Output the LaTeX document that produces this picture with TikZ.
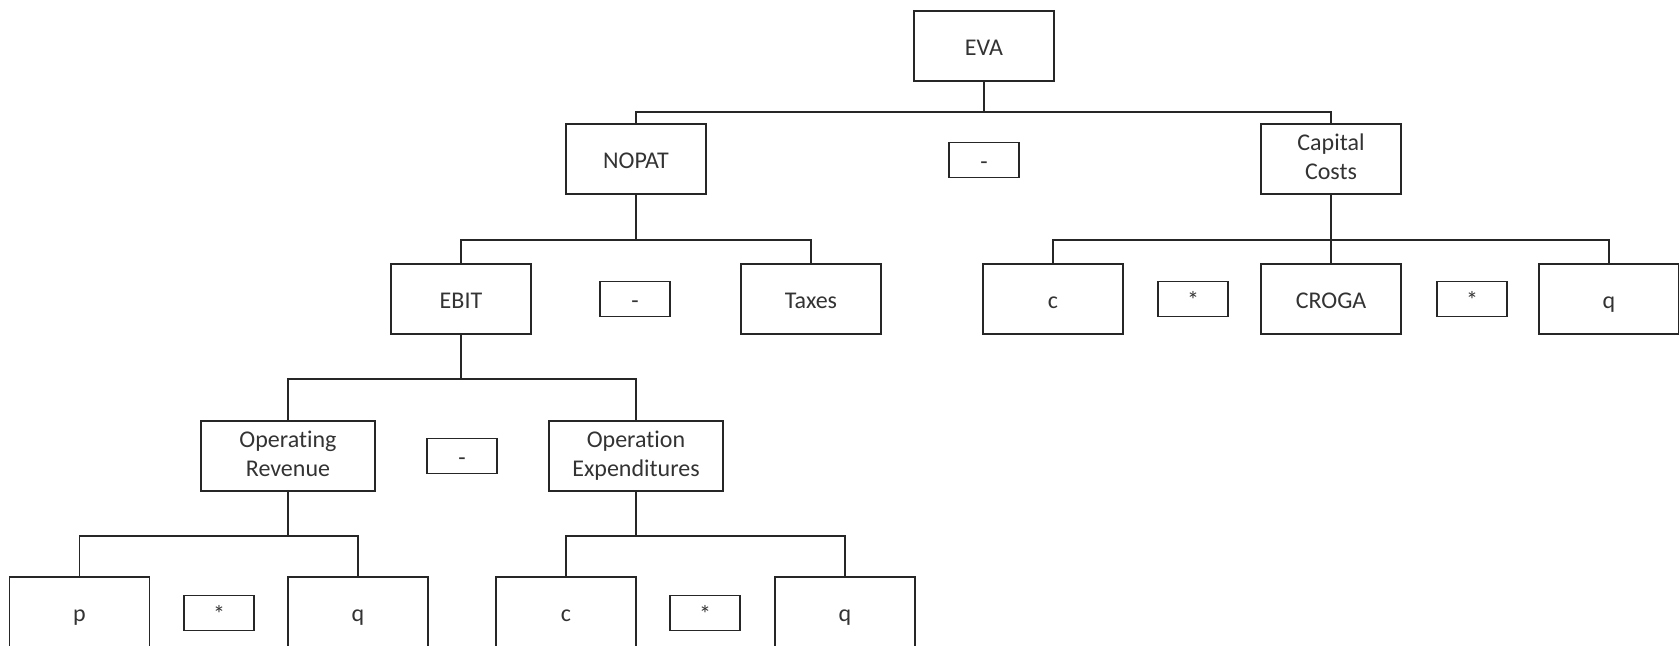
\documentclass[tikz,border=0pt]{standalone}
\usepackage{fontspec}
\setmainfont{Carlito}[Ligatures=NoCommon]
\newcommand\boxstrut{\rule[-2.5pt]{0pt}{14.2pt}}
\tikzset{
  box/.style={draw=black!85, line width=0.9pt, text=black!80, align=center, inner sep=0pt,
    minimum width=70pt, minimum height=35pt, font=\fontsize{12}{14.5}\selectfont,
    execute at begin node=\boxstrut},
  widebox/.style={box, minimum width=87pt},
  opbox/.style={box, minimum width=35pt, minimum height=17.5pt},
  link/.style={draw=black!85, line width=0.9pt}
}
\begin{document}
\begin{tikzpicture}[x=0.5pt, y=-0.5pt]

      \clip (0,0) rectangle (1679,646); % page frame

      % top level
      \node[box] (eva) at (984,46) {EVA};
      \node[box] (nopat) at (636,159) {NOPAT};
      \node[opbox] (minusA) at (984,160) {-};
      \node[box] (cap) at (1331,159) {Capital\\\boxstrut Costs};

      % second level
      \node[box] (ebit) at (461,299) {EBIT};
      \node[opbox] (minusB) at (635,299) {-};
      \node[box] (taxes) at (811,299) {Taxes};
      \node[box] (capc) at (1053,299) {c};
      \node[opbox] (timesA) at (1193,299) {*};
      \node[box] (croga) at (1331,299) {CROGA};
      \node[opbox] (timesB) at (1472,299) {*};
      \node[box] (capq) at (1609,299) {q};

      % third level
      \node[widebox] (oprev) at (288,456) {Operating\\\boxstrut Revenue};
      \node[opbox] (minusC) at (462,456) {-};
      \node[widebox] (opexp) at (636,456) {Operation\\\boxstrut Expenditures};

      % bottom level
      \node[box] (revp) at (79.5,612) {p};
      \node[opbox] (timesC) at (219,613) {*};
      \node[box] (revq) at (358,612) {q};
      \node[box] (expc) at (566,612) {c};
      \node[opbox] (timesD) at (705,613) {*};
      \node[box] (expq) at (845,612) {q};

      % connectors
      \draw[link] (eva.south) -- ++(0,30) coordinate (barA) -| (nopat.north);
      \draw[link] (barA) -| (cap.north);

      \draw[link] (nopat.south) -- ++(0,45) coordinate (barB) -| (ebit.north);
      \draw[link] (barB) -| (taxes.north);

      \draw[link] (cap.south) -- ++(0,45) coordinate (barC) -| (capc.north);
      \draw[link] (barC) -| (capq.north);
      \draw[link] (barC) -- (croga.north);

      \draw[link] (ebit.south) -- ++(0,44) coordinate (barD) -| (oprev.north);
      \draw[link] (barD) -| (opexp.north);

      \draw[link] (oprev.south) -- ++(0,44) coordinate (barE) -| (revp.north);
      \draw[link] (barE) -| (revq.north);

      \draw[link] (opexp.south) -- ++(0,44) coordinate (barF) -| (expc.north);
      \draw[link] (barF) -| (expq.north);

\end{tikzpicture}
\end{document}
